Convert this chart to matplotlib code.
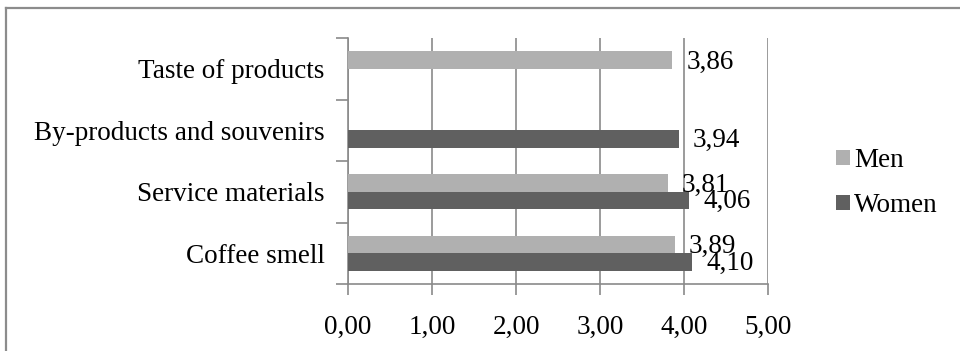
import matplotlib
matplotlib.use("Agg")
import matplotlib.pyplot as plt
from matplotlib.lines import Line2D
from matplotlib.patches import Patch
import numpy as np

categories = ["Coffee smell", "Service materials", "By-products and souvenirs", "Taste of products"]
men = [3.89, 3.81, np.nan, 3.86]
women = [4.10, 4.06, 3.94, np.nan]
men_labels = ["3,89", "3,81", "", "3,86"]
women_labels = ["4,10", "4,06", "3,94", ""]
xticks = [0, 1, 2, 3, 4, 5]
xticklabels = ["0,00", "1,00", "2,00", "3,00", "4,00", "5,00"]

FAMILY = ['Liberation Serif', 'DejaVu Serif']
plt.rcParams['font.family'] = FAMILY
FS = 19.5

W, H = 960, 351
fig = plt.figure(figsize=(W / 100, H / 100), dpi=100)
ax = fig.add_axes([348 / W, 1 - 284 / H, (768 - 348) / W, (284 - 38) / H])

MEN_C = "#b0b0b0"
WOMEN_C = "#606060"
GRID_C = "#8a8a8a"
bw = 0.285
y = np.arange(len(categories))

ax.barh(y + bw / 2, men, height=bw, color=MEN_C, label="Men", zorder=3)
ax.barh(y - bw / 2, women, height=bw, color=WOMEN_C, label="Women", zorder=3)

for yi, v, t in zip(y + bw / 2, men, men_labels):
    if not np.isnan(v):
        ax.annotate(t, (v, yi), xytext=(14, -2), textcoords="offset pixels",
                    ha="left", va="center", fontsize=FS, color="black", zorder=5)
for yi, v, t in zip(y - bw / 2, women, women_labels):
    if not np.isnan(v):
        ax.annotate(t, (v, yi), xytext=(14, -1), textcoords="offset pixels",
                    ha="left", va="center", fontsize=FS, color="black", zorder=5)

ax.set_xlim(0, 5)
ax.set_ylim(-0.5, len(categories) - 0.5)
ax.set_xticks(xticks)
ax.set_xticklabels(xticklabels, fontsize=FS)
ax.set_yticks(y)
ax.set_yticklabels(categories, fontsize=FS)
ax.set_yticks(np.arange(len(categories) + 1) - 0.5, minor=True)
ax.tick_params(axis="y", which="major", length=0, pad=17)
ax.tick_params(axis="y", which="minor", length=9, width=1.2, color=GRID_C, direction="out")
ax.tick_params(axis="x", which="major", length=8, width=1.2, color=GRID_C, direction="out", pad=14)

ax.grid(axis="x", color=GRID_C, linewidth=1.2, zorder=0)
ax.spines["top"].set_visible(False)
ax.spines["right"].set_visible(False)
for s in ["left", "bottom"]:
    ax.spines[s].set_color(GRID_C)
    ax.spines[s].set_linewidth(1.2)

handles = [Patch(facecolor=MEN_C, label="Men"), Patch(facecolor=WOMEN_C, label="Women")]
fig.legend(handles=handles, loc="center left", bbox_to_anchor=(812 / W, 1 - 183 / H),
           frameon=False, prop={'family': FAMILY, 'size': FS}, handlelength=0.5, handleheight=0.5,
           handletextpad=0.15, labelspacing=0.75)

# outer chart border (top and left visible)
fig.add_artist(Line2D([5.5 / W, 960 / W], [1 - 7.5 / H, 1 - 7.5 / H], color="#8c8c8c", linewidth=1.6))
fig.add_artist(Line2D([6 / W, 6 / W], [0, 1 - 7.5 / H], color="#8c8c8c", linewidth=1.6))

fig.savefig("out.png", dpi=100)
